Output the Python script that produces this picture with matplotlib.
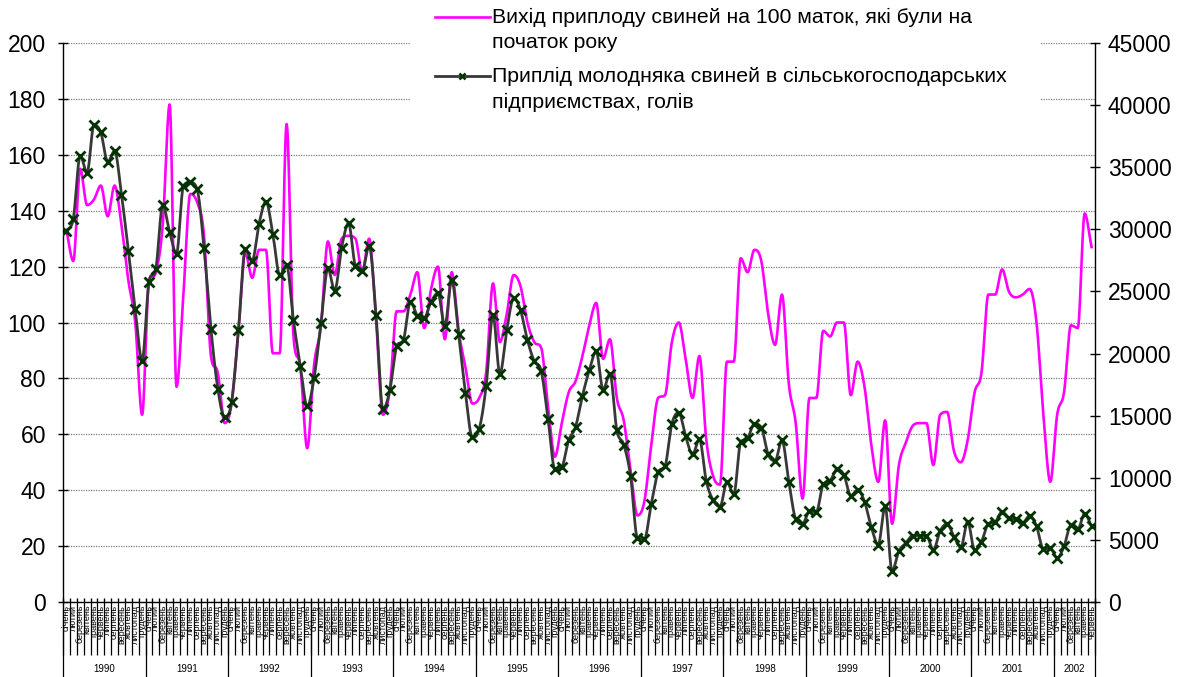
import numpy as np
import matplotlib
matplotlib.use('Agg')
import matplotlib.pyplot as plt
import matplotlib.transforms as mtransforms
from matplotlib.patches import Rectangle
from matplotlib.lines import Line2D

plt.rcParams['font.family'] = ['Liberation Sans', 'DejaVu Sans']

months = ['січень', 'лютий', 'березень', 'квітень', 'травень', 'червень',
          'липень', 'серпень', 'вересень', 'жовтень', 'листопад', 'грудень']
years = [1990, 1991, 1992, 1993, 1994, 1995, 1996, 1997, 1998, 1999, 2000, 2001, 2002]
months_per_year = [12, 12, 12, 12, 12, 12, 12, 12, 12, 12, 12, 12, 6]

# вихід приплоду на 100 маток (ліва вісь)
vyhid = [
    133, 122, 155, 142, 144, 149, 138, 149, 135, 115, 100, 67,
    115, 118, 135, 178, 77, 110, 146, 143, 131, 88, 82, 64,
    71, 97, 125, 116, 126, 126, 89, 89, 171, 95, 84, 55,
    85, 99, 129, 117, 130, 131, 130, 118, 130, 101, 67, 76,
    104, 104, 110, 118, 98, 112, 120, 94, 118, 97, 84, 71,
    73, 82, 114, 93, 103, 117, 113, 100, 93, 91, 70, 52,
    64, 75, 79, 88, 99, 107, 87, 94, 73, 65, 47, 31,
    36, 56, 73, 74, 93, 100, 87, 73, 88, 58, 45, 42,
    86, 86, 123, 118, 126, 122, 103, 92, 110, 78, 64, 37,
    73, 73, 97, 95, 100, 100, 74, 86, 77, 56, 43, 65,
    28, 49, 57, 63, 64, 64, 49, 67, 68, 54, 50, 58,
    75, 82, 110, 110, 119, 111, 109, 110, 112, 100, 67, 43,
    67, 75, 99, 98, 139, 127,
]

# приплід молодняка, голів (права вісь)
pryplid = [
    29880, 30870, 35930, 34560, 38390, 37800, 35430, 36310, 32800, 28290, 23550, 19430,
    25780, 26830, 31950, 29790, 28030, 33500, 33790, 33210, 28470, 22000, 17170, 14860,
    16090, 21860, 28410, 27470, 30460, 32240, 29640, 26300, 27120, 22680, 18990, 15740,
    18050, 22440, 26860, 25070, 28530, 30490, 27070, 26660, 28670, 23140, 15540, 17030,
    20570, 21120, 24170, 23060, 22880, 24170, 24870, 22240, 25890, 21590, 16820, 13250,
    13930, 17380, 23110, 18340, 21880, 24460, 23490, 21100, 19370, 18610, 14750, 10680,
    10880, 13020, 14100, 16590, 18670, 20190, 17090, 18370, 13810, 12670, 10120, 5120,
    5060, 7870, 10440, 10910, 14340, 15250, 13340, 11880, 13110, 9740, 8190, 7670,
    9650, 8660, 12870, 13170, 14340, 14040, 11880, 11360, 13020, 9690, 6670, 6290,
    7310, 7260, 9480, 9740, 10680, 10240, 8570, 9010, 8080, 6000, 4620, 7690,
    2490, 4100, 4740, 5350, 5350, 5350, 4180, 5730, 6290, 5270, 4390, 6470,
    4180, 4860, 6290, 6440, 7260, 6730, 6670, 6380, 6960, 6090, 4270, 4330,
    3540, 4480, 6170, 5850, 7110, 6090,
]

label1 = ['Вихід приплоду свиней на 100 маток, які були на', 'початок року']
label2 = ['Приплід молодняка свиней в сільськогосподарських', 'підприємствах, голів']


def smooth(xs, ys, steps=16):
    # згладжування кубічним Ерміта без викидів за межі даних
    xs = np.asarray(xs, float)
    y = np.asarray(ys, float)
    d = np.diff(y)
    m = np.zeros_like(y)
    m[0], m[-1] = d[0], d[-1]
    for i in range(1, len(y) - 1):
        if d[i - 1] * d[i] > 0:
            t = (d[i - 1] + d[i]) / 2
            lim = 3 * min(abs(d[i - 1]), abs(d[i]))
            m[i] = np.sign(t) * min(abs(t), lim)
    t = np.linspace(0, 1, steps + 1)[1:]
    h00 = 2 * t**3 - 3 * t**2 + 1
    h10 = t**3 - 2 * t**2 + t
    h01 = -2 * t**3 + 3 * t**2
    h11 = t**3 - t**2
    ox, oy = [xs[0]], [y[0]]
    for i in range(len(y) - 1):
        dx = xs[i + 1] - xs[i]
        ox.extend(xs[i] + t * dx)
        oy.extend(h00 * y[i] + h10 * m[i] + h01 * y[i + 1] + h11 * m[i + 1])
    return np.array(ox), np.array(oy)


W, H = 1186, 677
n = len(vyhid)
x = np.arange(n) + 0.5

fig = plt.figure(figsize=(W / 100, H / 100), dpi=100)
ax1 = fig.add_axes([63 / W, 1 - 602 / H, (1095 - 63) / W, (602 - 43) / H])
ax2 = ax1.twinx()

sx, sy = smooth(x, vyhid)
ax1.plot(sx, sy, color='#FF00FF', lw=1.9, zorder=3)

sx2, sy2 = smooth(x, pryplid)
ax2.plot(sx2, sy2, color='#383838', lw=2.0, zorder=3)
ax2.plot(x, pryplid, ls='none', marker='x', ms=6.5, mew=2.0, color='#003300', zorder=4)

ax1.set_xlim(0, n)
ax1.set_ylim(0, 200)
ax2.set_ylim(0, 45000)
ax1.set_yticks(range(0, 201, 20))
ax2.set_yticks(range(0, 45001, 5000))

ax1.yaxis.grid(True, color='#7f7f7f', linestyle=(0, (1, 1)), linewidth=0.9)
ax1.set_axisbelow(True)

for ax in (ax1, ax2):
    ax.spines['top'].set_visible(False)
ax1.spines['right'].set_visible(False)
ax2.spines['left'].set_visible(False)
ax2.spines['bottom'].set_visible(False)
for s in ('left', 'bottom'):
    ax1.spines[s].set_linewidth(1.0)
ax2.spines['right'].set_linewidth(1.0)

ax1.tick_params(axis='y', direction='inout', length=7.5, width=1, labelsize=16.5, pad=8.5)
ax2.tick_params(axis='y', direction='inout', length=7.5, width=1, labelsize=16.5, pad=5.5)

# місяці
bounds = np.arange(0, n + 1)
ax1.set_xticks(bounds)
ax1.set_xticklabels([])
ax1.tick_params(axis='x', which='major', direction='in', length=3, width=1)
ax1.set_xticks(x, minor=True)
ax1.set_xticklabels([months[i % 12] for i in range(n)], minor=True, rotation=90, fontsize=6.5)
ax1.tick_params(axis='x', which='minor', length=0, pad=2)

trans = mtransforms.blended_transform_factory(ax1.transData, ax1.transAxes)
ax1.vlines(bounds, -(655 - 602) / 559, 0, transform=trans, clip_on=False,
           colors='black', linewidth=0.9)
year_bounds = np.concatenate([[0], np.cumsum(months_per_year)])
ax1.vlines(year_bounds, -(680 - 602) / 559, 0, transform=trans, clip_on=False,
           colors='black', linewidth=0.9)
for k, yr in enumerate(years):
    c = (year_bounds[k] + year_bounds[k + 1]) / 2
    ax1.text(c, -(669 - 602) / 559, str(yr), transform=trans, ha='center', va='center', fontsize=7)

# легенда
fig.add_artist(Rectangle((410 / W, 1 - 125 / H), (1040 - 410) / W, 125 / H,
                         transform=fig.transFigure, facecolor='white', edgecolor='none', zorder=1))
fig.add_artist(Line2D([435 / W, 490 / W], [1 - 17 / H] * 2, transform=fig.transFigure,
                      color='#FF00FF', lw=1.9, zorder=2))
fig.add_artist(Line2D([435 / W, 462 / W, 490 / W], [1 - 76 / H] * 3, transform=fig.transFigure,
                      color='#383838', lw=2.0, marker='x', ms=5, mew=1.8, mec='#003300',
                      markevery=[1], zorder=2))
for txt, yy in zip(label1 + label2, [17, 43, 76, 102]):
    fig.text(492 / W, 1 - yy / H, txt, fontsize=15.3, va='center', ha='left', zorder=3)

fig.savefig('out.png', dpi=100)
